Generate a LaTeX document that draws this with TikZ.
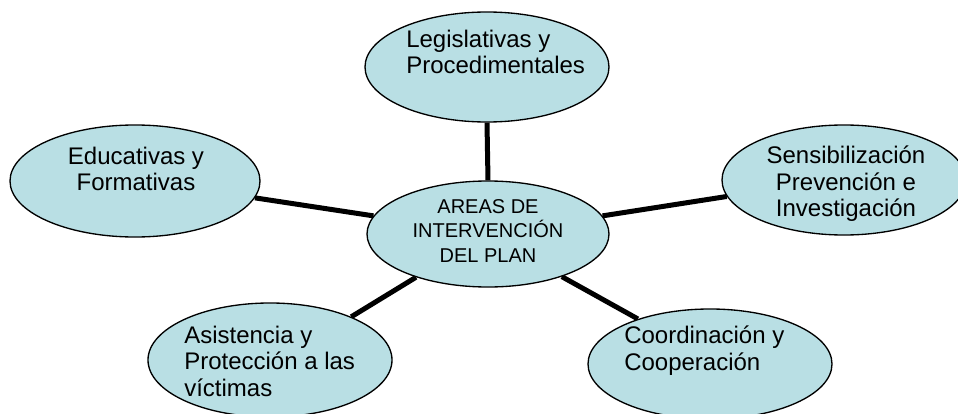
\documentclass[tikz,border=0pt]{standalone}
\usepackage{fontspec}
\setmainfont{Liberation Sans}
\usetikzlibrary{shapes.geometric,backgrounds}
\definecolor{bubblefill}{RGB}{185,223,228}
\begin{document}
\begin{tikzpicture}[x=0.75pt,y=-0.75pt,
  bubble/.style={ellipse,draw=black,line width=1pt,fill=bubblefill,inner sep=0pt},
  outertext/.style={inner sep=0pt,font=\fontsize{18}{19.75}\selectfont},
  innertext/.style={inner sep=0pt,font=\fontsize{15}{18.4}\selectfont,align=center},
  spoke/.style={line width=3.75pt,black}]
\useasboundingbox (0,0) rectangle (958,414);
% ellipses
\node[bubble,minimum width=181.5pt,minimum height=79.5pt] (c) at (488,234) {};
\node[bubble,minimum width=183pt,minimum height=82.5pt] (t) at (487,67) {};
\node[bubble,minimum width=187.5pt,minimum height=84pt] (l) at (135,181) {};
\node[bubble,minimum width=183pt,minimum height=82.5pt] (r) at (844,180) {};
\node[bubble,minimum width=183pt,minimum height=85.5pt] (bl) at (270,360) {};
\node[bubble,minimum width=183pt,minimum height=82.5pt] (br) at (710,364) {};
% spokes
\begin{scope}[on background layer]
\draw[spoke] (t.south) -- (c.north);
\draw[spoke] (l.352) -- (c.171);
\draw[spoke] (c.9) -- (r.188);
\draw[spoke] (c.211) -- (bl.28);
\draw[spoke] (c.330) -- (br.148);
\end{scope}
% texts
\node[innertext,anchor=north] (ct) at (488,199) {AREAS DE\\INTERVENCIÓN\\DEL PLAN};
\node[outertext,align=left,anchor=north west] (tt) at (406,30) {Legislativas y\\Procedimentales};
\node[outertext,align=center,anchor=north] (lt) at (136,147) {Educativas y\\Formativas};
\node[outertext,align=center,anchor=north] (rt) at (846,146) {Sensibilización\\Prevención e\\Investigación};
\node[outertext,align=left,anchor=north west] (blt) at (184,326) {Asistencia y\\Protección a las\\víctimas};
\node[outertext,align=left,anchor=north west] (brt) at (624,326) {Coordinación y\\Cooperación};
\end{tikzpicture}
\end{document}
